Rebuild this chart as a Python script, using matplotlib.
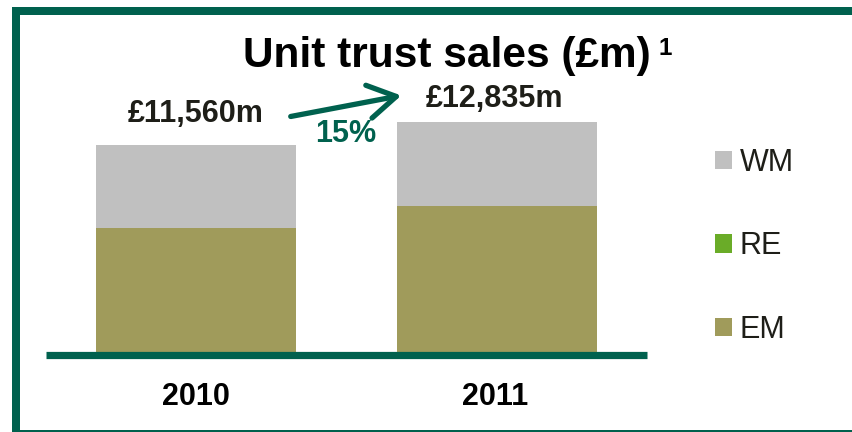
import matplotlib.pyplot as plt
from matplotlib.patches import Rectangle

# данные
years = ['2010', '2011']
em = [6970, 8180]
re = [0, 0]
wm = [4590, 4655]
totals = ['£11,560m', '£12,835m']
growth = '15%'

GREEN = '#00614E'
C_WM = '#C0C0C0'
C_RE = '#6AAC28'
C_EM = '#A09B5B'
TXT = '#1E1E18'

plt.rcParams['font.family'] = ['Liberation Sans', 'DejaVu Sans']

W, H = 852, 432
fig = plt.figure(figsize=(W / 100, H / 100), dpi=100)


def fx(px):
    return px / W


def fy(py):
    return 1 - py / H


# рамка
fig.add_artist(Rectangle((fx(12), fy(15)), fx(840), 8 / H, transform=fig.transFigure,
                         color=GREEN, lw=0))
fig.add_artist(Rectangle((fx(12), fy(431)), 8 / W, 424 / H, transform=fig.transFigure,
                         color=GREEN, lw=0))
fig.add_artist(Rectangle((fx(12), fy(431.5)), fx(840), 1.5 / H, transform=fig.transFigure,
                         color=GREEN, lw=0))

# оси
ax = fig.add_axes([fx(46), fy(354.5), fx(647 - 46), (354.5 - 20) / H])
x = range(len(years))
ax.bar(x, em, width=0.665, color=C_EM, label='EM', zorder=2)
ax.bar(x, re, width=0.665, bottom=em, color=C_RE, label='RE', zorder=2)
bottom2 = [a + b for a, b in zip(em, re)]
ax.bar(x, wm, width=0.665, bottom=bottom2, color=C_WM, label='WM', zorder=2)
ax.axhline(0, color=GREEN, lw=5.2, zorder=3, solid_capstyle='butt', clip_on=False)
ax.set_xlim(-0.5, 1.5)
ax.set_ylim(0, 334.5 * 55.1)
ax.axis('off')

# подписи годов
for xi, yr in zip([196, 495], years):
    fig.text(fx(xi), fy(405), yr, ha='center', va='baseline', fontsize=22,
             fontweight='bold', color='black')

# итоги
fig.text(fx(196), fy(122), totals[0], ha='center', va='baseline', fontsize=22,
         fontweight='bold', color=TXT)
fig.text(fx(495), fy(107), totals[1], ha='center', va='baseline', fontsize=22,
         fontweight='bold', color=TXT)

# заголовок
fig.text(fx(447), fy(67), 'Unit trust sales (£m)', ha='center', va='baseline',
         fontsize=30.5, fontweight='bold', color='black')
fig.text(fx(665), fy(55), '1', ha='center', va='baseline', fontsize=17.5,
         fontweight='bold', color='black')

# стрелка роста
ax.annotate('', xy=(404, H - 95), xytext=(288, H - 117), xycoords='figure pixels',
            textcoords='figure pixels',
            arrowprops=dict(arrowstyle='->,head_length=1.0,head_width=0.6',
                            color=GREEN, lw=3.8, mutation_scale=20))
fig.text(fx(346), fy(142), growth, ha='center', va='baseline', fontsize=22,
         fontweight='bold', color=GREEN)

# легенда
h, l = ax.get_legend_handles_labels()
fig.legend(h[::-1], l[::-1], loc='upper left', bbox_to_anchor=(fx(715), fy(148)),
           frameon=False, fontsize=22, handlelength=0.55, handleheight=0.55,
           handletextpad=0.25, labelspacing=1.75, borderpad=0, borderaxespad=0,
           labelcolor=TXT)

fig.savefig('out.png', dpi=100)
